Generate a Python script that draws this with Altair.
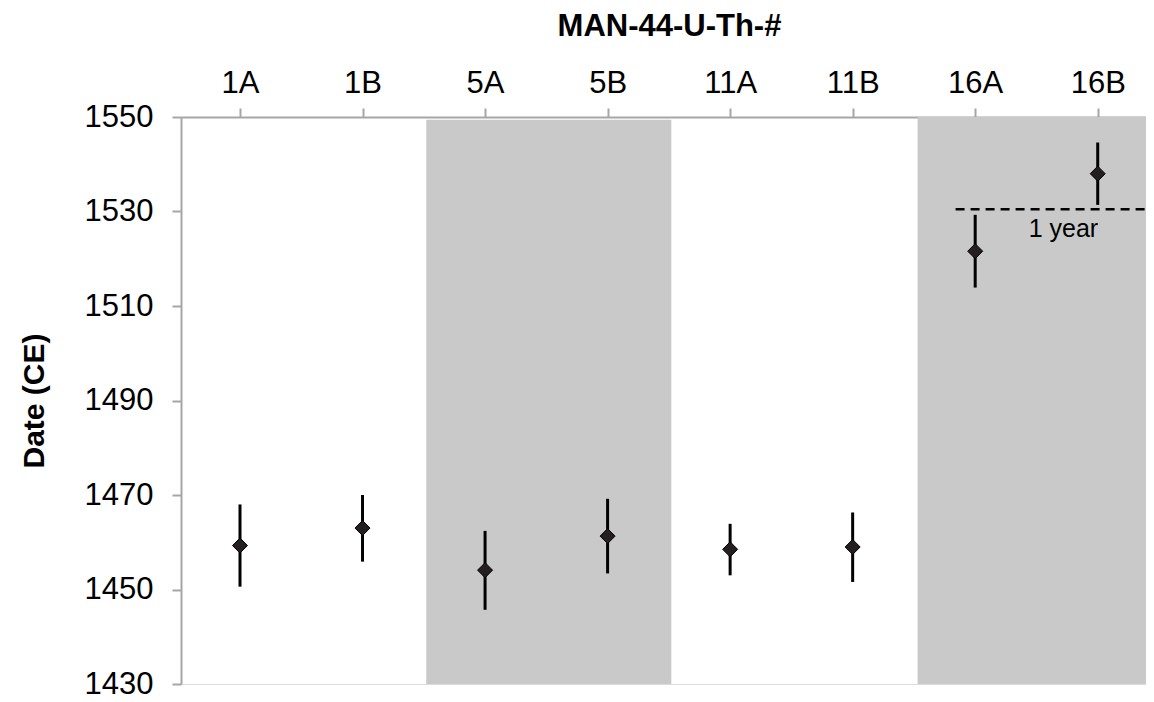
import altair as alt
import pandas as pd

# ---- data ----
samples = ["1A", "1B", "5A", "5B", "11A", "11B", "16A", "16B"]
dates = [1459.3, 1463.0, 1454.1, 1461.3, 1458.5, 1459.0, 1521.6, 1538.0]
err_lo = [1450.6, 1455.9, 1445.7, 1453.4, 1453.0, 1451.6, 1513.9, 1531.4]
err_hi = [1468.0, 1470.0, 1462.4, 1469.2, 1463.9, 1466.3, 1529.3, 1544.6]

shade_start = [1.52, 5.53]
shade_end = [3.52, 7.6]
shade_bottom = [1430, 1430]
shade_top = [1549.4, 1550]

year_line_start = [5.84]
year_line_end = [7.6]
year_line_value = [1530.5]
year_label = ["1 year"]
year_label_x = [6.72]
year_label_y = [1524.7]

y_ticks = [1430, 1450, 1470, 1490, 1510, 1530, 1550]

# ---- tables ----
pts = pd.DataFrame({"idx": list(range(len(samples))), "sample": samples,
                    "date": dates, "lo": err_lo, "hi": err_hi})
shade = pd.DataFrame({"x0": shade_start, "x1": shade_end,
                      "y0": shade_bottom, "y1": shade_top})
yl = pd.DataFrame({"x0": year_line_start, "x1": year_line_end, "y": year_line_value})
lab = pd.DataFrame({"x": year_label_x, "y": year_label_y, "t": year_label})

FONT = "Liberation Sans"
AXC = "#a6a6a6"
label_expr = "[" + ",".join("'%s'" % s for s in samples) + "][datum.value]"

xscale = alt.Scale(domain=[-0.4815, 7.394], nice=False, zero=False)
yscale = alt.Scale(domain=[1430, 1550], nice=False, zero=False)

xaxis = alt.Axis(orient="top", values=list(range(len(samples))), labelExpr=label_expr,
                 title="MAN-44-U-Th-#", grid=False, domainColor=AXC, domainWidth=2,
                 tickColor=AXC, tickWidth=2, tickSize=9, labelPadding=15.5,
                 labelBaseline="alphabetic", labelFont=FONT, labelFontSize=31,
                 labelColor="black", titleFont=FONT, titleFontSize=31,
                 titleFontWeight="bold", titleColor="black", titleX=488, titleY=-82,
                 titleBaseline="alphabetic", labelFlush=False)
yaxis = alt.Axis(values=y_ticks, format="d", title="Date (CE)", grid=False,
                 domainColor=AXC, domainWidth=2, tickColor=AXC, tickWidth=2, tickSize=9,
                 labelPadding=19, labelFont=FONT, labelFontSize=31, labelColor="black",
                 titleFont=FONT, titleFontSize=30, titleFontWeight="bold",
                 titleColor="black", titleX=-138, titleY=283.5,
                 titleBaseline="alphabetic", titleAngle=-90, labelFlush=False)

bands = alt.Chart(shade).mark_rect(color="#c9c9c9", clip=True).encode(
    x=alt.X("x0:Q", scale=xscale, axis=xaxis),
    x2="x1:Q",
    y=alt.Y("y0:Q", scale=yscale, axis=yaxis),
    y2="y1:Q",
)

errbars = alt.Chart(pts).mark_rule(color="black", strokeWidth=3).encode(
    x=alt.X("idx:Q", scale=xscale, axis=xaxis),
    y=alt.Y("lo:Q", scale=yscale, axis=yaxis),
    y2="hi:Q",
)

points = alt.Chart(pts).mark_point(shape="diamond", size=225, filled=True,
                                   fill="#231f20", stroke="black", strokeWidth=1,
                                   opacity=1).encode(
    x=alt.X("idx:Q", scale=xscale, axis=xaxis),
    y=alt.Y("date:Q", scale=yscale, axis=yaxis),
)

dash = alt.Chart(yl).mark_rule(color="black", strokeWidth=2.5, strokeDash=[9, 6],
                               clip=True).encode(
    x=alt.X("x0:Q", scale=xscale, axis=xaxis),
    x2="x1:Q",
    y=alt.Y("y:Q", scale=yscale, axis=yaxis),
)

txt = alt.Chart(lab).mark_text(font=FONT, fontSize=25, color="black", align="center",
                               baseline="alphabetic").encode(
    x=alt.X("x:Q", scale=xscale, axis=xaxis),
    y=alt.Y("y:Q", scale=yscale, axis=yaxis),
    text="t:N",
)

chart = alt.layer(bands, errbars, points, dash, txt).properties(
    width=965, height=567,
    autosize=alt.AutoSizeParams(type="none"),
    padding={"left": 173, "top": 109, "right": 0, "bottom": 17},
).configure_view(stroke=None).configure(background="white")

chart.save("out.html", embed_options={"renderer": "svg", "actions": False})
